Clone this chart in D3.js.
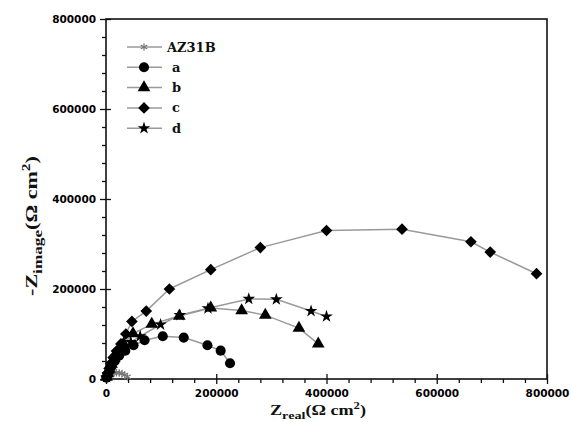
<!DOCTYPE html>
<html>
<head>
<meta charset="utf-8">
<script src="https://cdn.jsdelivr.net/npm/d3@7"></script>
<style>
  body { margin: 0; background: #fff; }
  svg { display: block; }
</style>
</head>
<body>
<svg id="chart" width="571" height="422"></svg>
<script>
// Nyquist data, Z_real / -Z_image in ohm cm2
const seriesNames = ["AZ31B", "a", "b", "c", "d"];

const az31bReal = [1000, 3000, 6000, 10000, 14000, 19000, 24000, 29000, 34000, 39000];
const az31bImag = [2000, 5000, 8000, 11000, 13000, 14000, 13500, 12000, 9000, 5000];

const aReal = [1000, 3000, 6000, 10000, 16000, 24000, 35000, 50000, 70000, 103000, 141000, 184000, 208000, 225000];
const aImag = [3000, 10000, 18000, 28000, 40000, 52000, 63000, 75000, 86000, 95000, 92000, 75000, 63000, 35000];

const bReal = [1000, 3000, 6000, 10000, 15000, 22000, 32000, 49000, 83000, 133000, 190000, 246000, 289000, 350000, 385000];
const bImag = [4000, 12000, 22000, 33000, 46000, 60000, 78000, 101000, 122000, 140000, 158000, 152000, 142000, 113000, 78000];

const cReal = [1000, 3000, 6000, 9000, 13000, 19000, 27000, 36000, 47000, 73000, 115000, 190000, 280000, 400000, 537000, 662000, 697000, 781000];
const cImag = [5000, 13000, 24000, 35000, 48000, 62000, 78000, 100000, 128000, 151000, 200000, 243000, 292000, 330000, 333000, 305000, 282000, 234000];

const dReal = [1000, 3000, 6000, 10000, 15000, 22000, 32000, 45000, 62000, 99000, 134000, 185000, 259000, 309000, 372000, 400000];
const dImag = [4000, 11000, 20000, 30000, 42000, 55000, 68000, 82000, 95000, 121000, 142000, 157000, 178000, 177000, 151000, 139000];

const xMajor = [0, 200000, 400000, 600000, 800000];
const yMajor = [0, 200000, 400000, 600000, 800000];

const svg = d3.select("#chart");
const W = +svg.attr("width"), H = +svg.attr("height");
const margin = { top: 19, right: 24, bottom: 43, left: 106 };
const iw = W - margin.left - margin.right;
const ih = H - margin.top - margin.bottom;

const x = d3.scaleLinear().domain([0, 800000]).range([0, iw]);
const y = d3.scaleLinear().domain([0, 800000]).range([ih, 0]);

const g = svg.append("g").attr("transform", `translate(${margin.left},${margin.top})`);

// minor ticks: 4 between majors
const xMinor = d3.range(0, 800001, 40000).filter(v => v % 200000 !== 0);
const yMinor = xMinor.slice();

function styleAxis(sel) {
  sel.select(".domain").remove();
  sel.selectAll("line").attr("stroke", "#111").attr("stroke-width", 1.3);
  sel.selectAll("text")
    .attr("font-family", "'DejaVu Sans', Arial, sans-serif")
    .attr("font-size", 10.5)
    .attr("font-weight", "bold")
    .attr("fill", "#000");
  sel.attr("font-family", null).attr("font-size", null);
}

// x axis
g.append("g").attr("transform", `translate(0,${ih})`)
  .call(d3.axisBottom(x).tickValues(xMajor).tickSize(5).tickPadding(6).tickFormat(d3.format("d")))
  .call(styleAxis);
g.append("g").attr("transform", `translate(0,${ih})`)
  .call(d3.axisBottom(x).tickValues(xMajor).tickSize(-5).tickFormat(""))
  .call(styleAxis);
g.append("g").attr("transform", `translate(0,${ih})`)
  .call(d3.axisBottom(x).tickValues(xMinor).tickSize(4).tickFormat(""))
  .call(styleAxis);

// y axis
g.append("g")
  .call(d3.axisLeft(y).tickValues(yMajor).tickSize(6).tickPadding(4).tickFormat(d3.format("d")))
  .call(styleAxis);
g.append("g")
  .call(d3.axisLeft(y).tickValues(yMajor).tickSize(-5).tickFormat(""))
  .call(styleAxis);
g.append("g")
  .call(d3.axisLeft(y).tickValues(yMinor).tickSize(4).tickFormat(""))
  .call(styleAxis);

// frame
g.append("rect")
  .attr("width", iw).attr("height", ih)
  .attr("fill", "none").attr("stroke", "#111").attr("stroke-width", 1.6);

// series
const series = [
  { name: "AZ31B", re: az31bReal, im: az31bImag, sym: d3.symbolAsterisk, size: 40, rot: 0, fill: "none", stroke: "#777" },
  { name: "a", re: aReal, im: aImag, sym: d3.symbolCircle, size: 80, rot: 0, fill: "#000", stroke: "none" },
  { name: "b", re: bReal, im: bImag, sym: d3.symbolTriangle, size: 70, rot: 0, fill: "#000", stroke: "none" },
  { name: "c", re: cReal, im: cImag, sym: d3.symbolSquare, size: 68, rot: 45, fill: "#000", stroke: "none" },
  { name: "d", re: dReal, im: dImag, sym: d3.symbolStar, size: 50, rot: 0, fill: "#000", stroke: "none" }
];

const line = d3.line().x(d => x(d[0])).y(d => y(d[1]));

series.forEach(s => {
  const pts = s.re.map((v, i) => [v, s.im[i]]);
  g.append("path")
    .datum(pts)
    .attr("d", line)
    .attr("fill", "none")
    .attr("stroke", "#9a9a9a")
    .attr("stroke-width", 1.5);
});

series.forEach(s => {
  const pts = s.re.map((v, i) => [v, s.im[i]]);
  g.selectAll(null)
    .data(pts)
    .enter()
    .append("path")
    .attr("d", d3.symbol().type(s.sym).size(s.size))
    .attr("transform", d => `translate(${x(d[0])},${y(d[1])}) rotate(${s.rot})`)
    .attr("fill", s.fill)
    .attr("stroke", s.stroke)
    .attr("stroke-width", 1.2);
});

// legend
const lg = svg.append("g").attr("transform", "translate(127,47)");
series.forEach((s, i) => {
  const row = lg.append("g").attr("transform", `translate(0,${i * 20.3})`);
  row.append("line").attr("x1", 0).attr("x2", 35).attr("y1", 0).attr("y2", 0)
    .attr("stroke", "#9a9a9a").attr("stroke-width", 1.5);
  row.append("path")
    .attr("d", d3.symbol().type(s.sym).size(s.size))
    .attr("transform", `translate(17,0) rotate(${s.rot})`)
    .attr("fill", s.fill).attr("stroke", s.stroke).attr("stroke-width", 1.2);
  row.append("text")
    .attr("x", i === 0 ? 40 : 45).attr("y", 4.5)
    .attr("font-family", "'DejaVu Serif', 'Times New Roman', serif")
    .attr("font-size", 13).attr("font-weight", "bold")
    .attr("fill", "#111")
    .text(s.name);
});

// axis titles (the source figure is stretched along the text direction)
function axisTitle(sel, main, sub, fs) {
  sel.attr("font-family", "'Liberation Serif', 'Times New Roman', serif")
    .attr("font-size", fs).attr("font-weight", "bold").attr("fill", "#111")
    .attr("text-anchor", "middle");
  sel.append("tspan").text(main);
  sel.append("tspan").attr("dy", fs * 0.28).attr("font-size", fs * 0.78).text(sub);
  sel.append("tspan").attr("dy", -fs * 0.28).text("(\u03A9 cm");
  sel.append("tspan").attr("dy", -fs * 0.4).attr("font-size", fs * 0.7).text("2");
  sel.append("tspan").attr("dy", fs * 0.4).text(")");
}

svg.append("text").attr("transform", "translate(318,415) scale(1.25,1)").call(axisTitle, "Z", "real", 14.5);
svg.append("text").attr("transform", "translate(37,226) rotate(-90) scale(1.3,1)").call(axisTitle, "-Z", "image", 17);
</script>
</body>
</html>
